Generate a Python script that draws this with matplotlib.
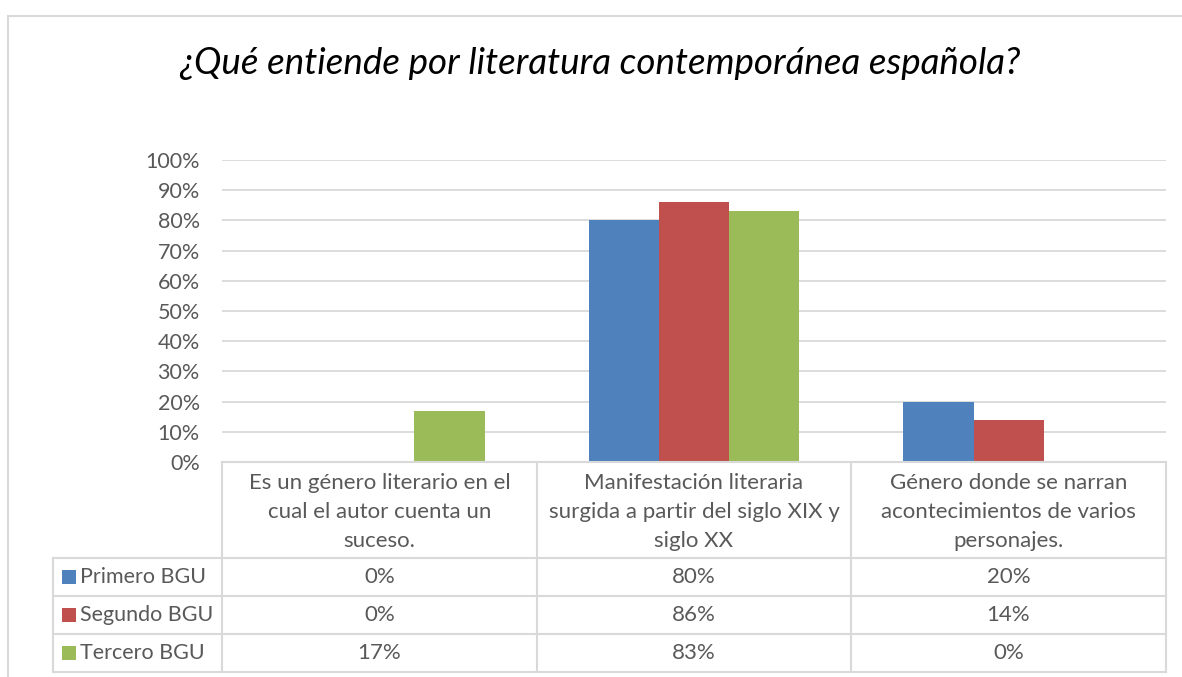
import matplotlib
matplotlib.use("Agg")
import matplotlib.pyplot as plt
import numpy as np
from matplotlib.lines import Line2D
from matplotlib.patches import Rectangle

title = "¿Qué entiende por literatura contemporánea española?"
categories = [
    "Es un género literario en el\ncual el autor cuenta un\nsuceso.",
    "Manifestación literaria\nsurgida a partir del siglo XIX y\nsiglo XX",
    "Género donde se narran\nacontecimientos de varios\npersonajes.",
]
series_names = ["Primero BGU", "Segundo BGU", "Tercero BGU"]
primero = [0, 80, 20]
segundo = [0, 86, 14]
tercero = [17, 83, 0]
series_values = [primero, segundo, tercero]
colors = ["#4F81BD", "#C0504D", "#9BBB59"]
yticks = [0, 10, 20, 30, 40, 50, 60, 70, 80, 90, 100]

plt.rcParams['font.family'] = ['Lato', 'DejaVu Sans']
W, H = 1182, 677
fig = plt.figure(figsize=(W / 100, H / 100), dpi=100)

# plot area in pixels
px0, px1 = 222, 1166
py_top, py_bot = 160, 462
ax = fig.add_axes([px0 / W, 1 - py_bot / H, (px1 - px0) / W, (py_bot - py_top) / H])
x = np.arange(len(categories))
bw = 0.223
for i, (vals, c) in enumerate(zip(series_values, colors)):
    ax.bar(x + (i - 1) * bw, vals, width=bw, color=c, zorder=3, linewidth=0)
ax.set_xlim(-0.5, len(categories) - 0.5)
ax.set_ylim(0, 100)
ax.set_yticks(yticks)
ax.set_yticklabels([f"{v}%" for v in yticks], fontsize=15.5, color="#595959")
ax.tick_params(axis='y', length=0, pad=16)
ax.set_xticks([])
ax.grid(axis='y', color="#D9D9D9", linewidth=1.3, zorder=0)
for s in ax.spines.values():
    s.set_visible(False)

# overlay axes in pixel coordinates
ov = fig.add_axes([0, 0, 1, 1], zorder=5)
ov.set_xlim(0, W)
ov.set_ylim(H, 0)
ov.axis('off')
ov.patch.set_alpha(0)

# chart border
bc = "#D9D9D9"
ov.add_line(Line2D([8, 8], [16, H + 5], color=bc, lw=1.5))
ov.add_line(Line2D([8, W + 5], [16, 16], color=bc, lw=1.5))

ov.text(W / 2 + 9, 64, title, fontsize=26.5, style='italic', ha='center', va='center', color="#000000")

# data table
col_x = [px0, 537, 851, px1]
row_y = [462, 558, 596, 634, 672]
tl = 53
lc = "#D9D9D9"
lw = 1.5
ov.add_line(Line2D([px0, px1], [row_y[0], row_y[0]], color=lc, lw=lw))
for xx in col_x:
    ov.add_line(Line2D([xx, xx], [row_y[0], row_y[-1]], color=lc, lw=lw))
for yy in row_y[1:]:
    ov.add_line(Line2D([tl, px1], [yy, yy], color=lc, lw=lw))
ov.add_line(Line2D([tl, tl], [row_y[1], row_y[-1]], color=lc, lw=lw))

tc = "#595959"
fs = 16
for j, cat in enumerate(categories):
    cx = (col_x[j] + col_x[j + 1]) / 2
    ov.text(cx, (row_y[0] + row_y[1]) / 2 + 2, cat, ha='center', va='center',
            fontsize=fs, color=tc, linespacing=1.55)
for i, (name, vals, c) in enumerate(zip(series_names, series_values, colors)):
    cy = (row_y[i + 1] + row_y[i + 2]) / 2
    ov.add_patch(Rectangle((62, cy - 7), 14, 14, color=c, lw=0))
    ov.text(80, cy, name, ha='left', va='center', fontsize=15.5, color=tc)
    for j, v in enumerate(vals):
        cx = (col_x[j] + col_x[j + 1]) / 2
        ov.text(cx, cy, f"{v}%", ha='center', va='center', fontsize=fs, color=tc)

fig.savefig("out.png", dpi=100, facecolor="white")
